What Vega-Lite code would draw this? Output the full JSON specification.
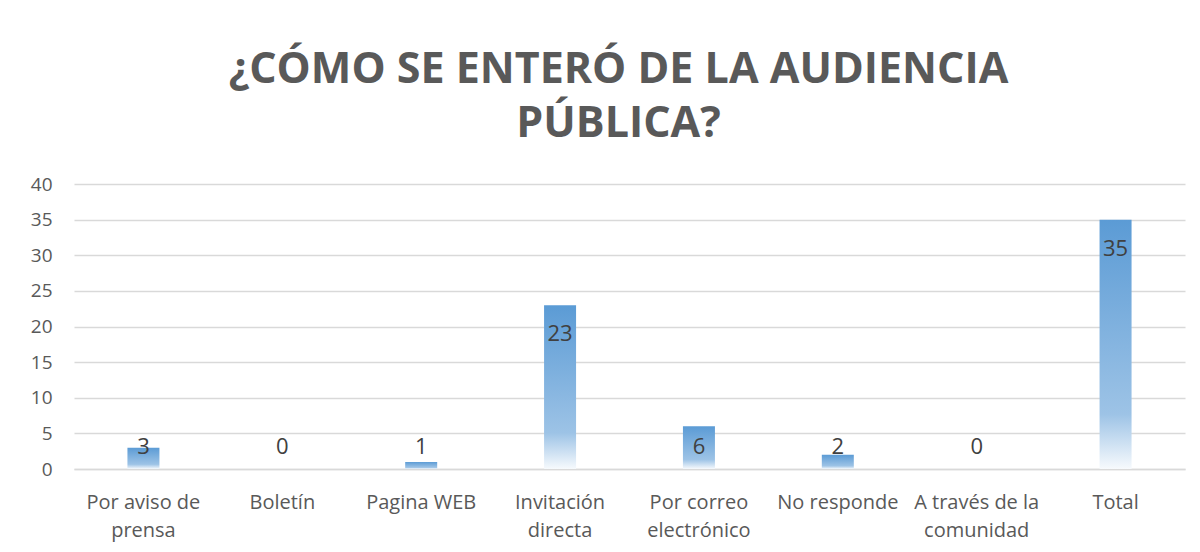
{
  "$schema": "https://vega.github.io/schema/vega-lite/v6.json",
  "autosize": "none",
  "width": 1111,
  "height": 285,
  "padding": {"left": 74, "top": 184, "right": 15, "bottom": 83},
  "background": "white",
  "config": {
    "view": {"stroke": null},
    "font": "Open Sans",
    "axisY": {
      "title": null,
      "values": [0, 5, 10, 15, 20, 25, 30, 35, 40],
      "ticks": false,
      "domain": false,
      "grid": true,
      "gridColor": "#d9d9d9",
      "gridWidth": 1.5,
      "labelFont": "Open Sans",
      "labelFontSize": 19,
      "labelColor": "#595959",
      "labelPadding": 22,
      "labelOverlap": false
    }
  },
  "title": {
    "text": ["¿CÓMO SE ENTERÓ DE LA AUDIENCIA", "PÚBLICA?"],
    "font": "Open Sans",
    "fontSize": 43,
    "fontWeight": "bold",
    "color": "#595959",
    "anchor": "middle",
    "frame": "group",
    "lineHeight": 54,
    "offset": 29,
    "dx": -11
  },
  "data": {
    "values": [
      {"categoria": "Por aviso de prensa", "valor": 3},
      {"categoria": "Boletín", "valor": 0},
      {"categoria": "Pagina WEB", "valor": 1},
      {"categoria": "Invitación directa", "valor": 23},
      {"categoria": "Por correo electrónico", "valor": 6},
      {"categoria": "No responde", "valor": 2},
      {"categoria": "A través de la comunidad", "valor": 0},
      {"categoria": "Total", "valor": 35}
    ]
  },
  "encoding": {
    "x": {
      "field": "categoria",
      "type": "nominal",
      "sort": null,
      "scale": {"paddingInner": 0, "paddingOuter": 0},
      "axis": {
        "title": null,
        "labelAngle": 0,
        "ticks": false,
        "domain": true,
        "domainColor": "#d9d9d9",
        "domainWidth": 1.5,
        "labelFont": "Open Sans",
        "labelFontSize": 20,
        "labelColor": "#595959",
        "labelPadding": 23,
        "labelLineHeight": 28,
        "labelBaseline": "top",
        "labelExpr": "datum.value == 'Por aviso de prensa' ? ['Por aviso de', 'prensa'] : datum.value == 'Invitación directa' ? ['Invitación', 'directa'] : datum.value == 'Por correo electrónico' ? ['Por correo', 'electrónico'] : datum.value == 'A través de la comunidad' ? ['A través de la', 'comunidad'] : datum.value"
      }
    }
  },
  "layer": [
    {
      "mark": {
        "type": "bar",
        "width": 32,
        "color": {
          "gradient": "linear",
          "x1": 0, "y1": 0, "x2": 0, "y2": 1,
          "stops": [
            {"offset": 0, "color": "#5b9bd5"},
            {"offset": 0.78, "color": "#9dc3e6"},
            {"offset": 1, "color": "#f7fafd"}
          ]
        }
      },
      "encoding": {
        "y": {
          "field": "valor",
          "type": "quantitative",
          "scale": {"domain": [0, 40]}
        }
      }
    },
    {
      "transform": [{"filter": "datum.valor >= 10"}],
      "mark": {"type": "text", "baseline": "middle", "dy": 29, "fontSize": 22, "color": "#404040", "font": "Open Sans"},
      "encoding": {
        "y": {"field": "valor", "type": "quantitative"},
        "text": {"field": "valor", "type": "quantitative"}
      }
    },
    {
      "transform": [{"filter": "datum.valor < 10"}],
      "mark": {"type": "text", "baseline": "middle", "fontSize": 22, "color": "#404040", "font": "Open Sans"},
      "encoding": {
        "y": {"datum": 3.1, "type": "quantitative"},
        "text": {"field": "valor", "type": "quantitative"}
      }
    }
  ]
}
